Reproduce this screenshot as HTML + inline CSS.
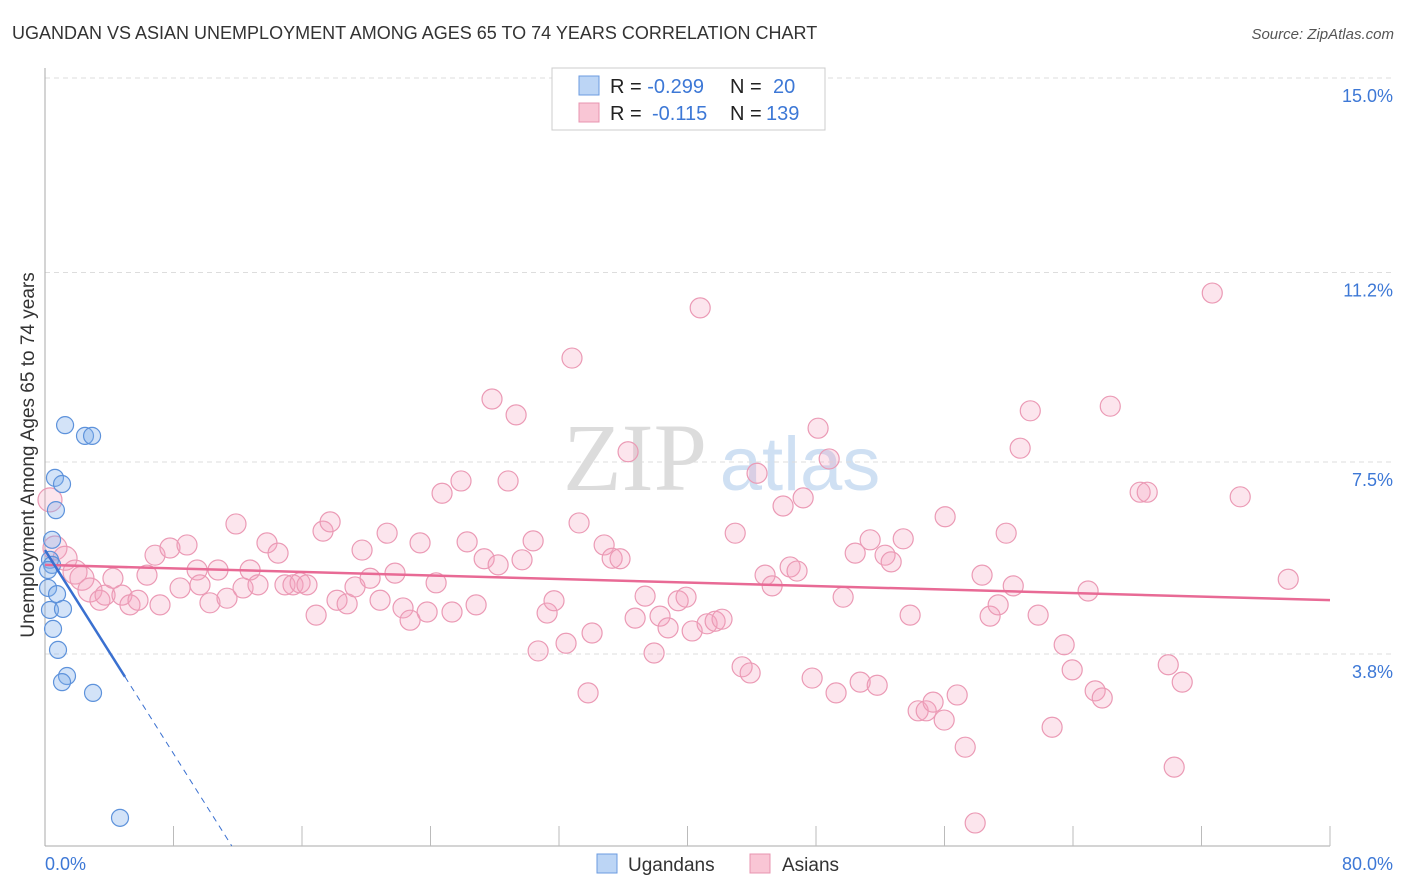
<!DOCTYPE html>
<html><head><meta charset="utf-8"><style>
body{margin:0;background:#fff;font-family:"Liberation Sans",sans-serif}
svg{display:block}
</style></head><body>
<svg id="chart" width="1406" height="892">
<text x="12" y="39" font-size="18" fill="#333">UGANDAN VS ASIAN UNEMPLOYMENT AMONG AGES 65 TO 74 YEARS CORRELATION CHART</text>
<text x="1394" y="39" font-size="15" fill="#555" font-style="italic" text-anchor="end">Source: ZipAtlas.com</text>
<g><text x="635" y="490" font-size="96" fill="#dcdcdc" font-family="Liberation Serif,serif" text-anchor="middle">ZIP</text><text x="800" y="490" font-size="76" fill="#cfe0f3" text-anchor="middle">atlas</text></g>
<g id="grid"></g><g id="axes"></g><g id="pts"></g><g id="lines"></g>
<g>
<rect x="552" y="68" width="273" height="62" fill="#fff" stroke="#ccc"/>
<rect x="579" y="76" width="20" height="19" fill="#bcd5f5" stroke="#6b9be0"/>
<rect x="579" y="103" width="20" height="19" fill="#f9c6d5" stroke="#e894b0"/>
<text x="610" y="93" font-size="20" fill="#222">R = <tspan fill="#3d78d6">-0.299</tspan></text>
<text x="730" y="93" font-size="20" fill="#222">N = </text><text x="773" y="93" font-size="20" fill="#3d78d6">20</text>
<text x="610" y="120" font-size="20" fill="#222">R = </text><text x="652" y="120" font-size="20" fill="#3d78d6">-0.115</text>
<text x="730" y="120" font-size="20" fill="#222">N = </text><text x="766" y="120" font-size="20" fill="#3d78d6">139</text>
</g>
<g>
<rect x="597" y="854" width="20" height="19" fill="#bcd5f5" stroke="#6b9be0"/>
<text x="628" y="871" font-size="19" fill="#333">Ugandans</text>
<rect x="750" y="854" width="20" height="19" fill="#f9c6d5" stroke="#e894b0"/>
<text x="782" y="871" font-size="19" fill="#333">Asians</text>
</g>
<text transform="translate(34,455) rotate(-90)" font-size="19" fill="#333" text-anchor="middle">Unemployment Among Ages 65 to 74 years</text>
</svg>
<script>
const yTicks=[3.8,7.5,11.2,15.0];
const yTickLabels=["3.8%","7.5%","11.2%","15.0%"];
const xTickCount=10;
const ugX=[1.25,2.49,2.93,0.62,1.06,0.68,0.44,0.31,0.44,0.19,0.75,0.31,1.12,0.50,0.81,1.37,1.06,2.99,4.67,0.19];
const ugY=[8.22,8.01,8.01,7.19,7.07,6.56,5.98,5.59,5.49,5.04,4.92,4.61,4.63,4.24,3.83,3.32,3.20,2.99,0.55,5.39];
const asX=[0.31,0.62,1.25,1.87,2.30,2.80,3.42,3.74,4.23,4.79,5.29,5.79,6.35,6.85,7.16,7.78,8.41,8.84,9.47,9.65,10.27,10.77,11.33,11.89,12.33,12.77,13.26,13.82,14.51,14.94,15.44,15.88,16.31,16.88,17.31,17.75,18.18,18.81,19.30,19.74,20.24,20.86,21.30,21.79,22.29,22.73,23.35,23.79,24.35,24.72,25.34,25.90,26.28,26.84,27.34,27.83,28.21,28.83,29.33,29.70,30.39,30.70,31.26,31.69,32.44,32.81,33.25,33.81,34.06,34.81,35.31,35.80,36.30,36.74,37.36,37.92,38.29,38.79,39.42,39.91,40.29,40.79,41.22,41.72,42.15,42.97,43.40,43.90,44.33,44.83,45.27,45.95,46.39,46.82,47.20,47.76,48.13,48.82,49.25,49.69,50.44,50.75,51.37,51.81,52.30,52.68,53.43,53.86,54.36,54.86,55.29,55.98,56.04,56.79,57.29,57.91,58.34,58.84,59.34,59.84,60.28,60.71,61.34,61.83,62.70,63.45,63.95,64.94,65.38,65.82,66.32,68.18,68.62,69.93,70.30,70.80,72.67,74.41,77.40];
const asY=[6.76,5.82,5.62,5.35,5.23,5.00,4.80,4.90,5.23,4.90,4.71,4.80,5.29,5.68,4.71,5.82,5.04,5.88,5.39,5.10,4.75,5.39,4.84,6.29,5.04,5.39,5.10,5.92,5.72,5.10,5.10,5.14,5.10,4.51,6.15,6.33,4.80,4.73,5.06,5.78,5.23,4.80,6.11,5.33,4.65,4.41,5.92,4.57,5.14,6.89,4.57,7.13,5.94,4.71,5.61,8.73,5.49,7.13,8.42,5.59,5.96,3.81,4.55,4.79,3.96,9.53,6.31,2.99,4.16,5.88,5.62,5.61,7.70,4.45,4.88,3.77,4.49,4.26,4.79,4.86,4.20,10.51,4.34,4.39,4.43,6.11,3.50,3.38,7.28,5.29,5.08,6.64,5.45,5.37,6.80,3.28,8.16,7.56,2.99,4.86,5.72,3.20,5.98,3.14,5.68,5.55,6.00,4.51,2.64,2.64,2.81,2.46,6.43,2.95,1.93,0.45,5.29,4.49,4.71,6.11,5.08,7.77,8.50,4.51,2.32,3.93,3.44,4.98,3.03,2.89,8.59,6.91,6.91,3.54,1.54,3.20,10.80,6.82,5.21];
const ugFit=[5.78,-0.497];
const asFit=[5.49,-0.0086];
const ugSolidEnd=4.98;

const X0=45,X1=1330,Y0=846,PX=(X1-X0)/80,PY=51.2;
const sx=v=>X0+v*PX, sy=v=>Y0-v*PY;
const NS="http://www.w3.org/2000/svg";
function mk(tag,parent,attrs){const e=document.createElementNS(NS,tag);for(const k in attrs)e.setAttribute(k,attrs[k]);document.getElementById(parent).appendChild(e);return e;}
yTicks.forEach((t,i)=>{
 const gv=(t===3.8?3.75:t);
 const g=mk('line','grid',{x1:X0,x2:1393,y1:sy(gv),y2:sy(gv),stroke:'#ddd','stroke-dasharray':'5,4'});
 
 
 const l=mk('text','axes',{x:1393,y:sy(gv)+24,'font-size':18,fill:'#3d78d6','text-anchor':'end'});
 l.textContent=yTickLabels[i];
 
 
});
const ya=mk('line','axes',{x1:X0,x2:X0,y1:68,y2:Y0,stroke:'#aaa'});


const xa=mk('line','axes',{x1:X0,x2:X1,y1:Y0,y2:Y0,stroke:'#aaa'});


for(let i=1;i<=xTickCount;i++){const t=mk('line','axes',{x1:sx(i*8),x2:sx(i*8),y1:826,y2:Y0,stroke:'#bbb'});
 
 }
const xl0=mk('text','axes',{x:45,y:870,'font-size':18,fill:'#3d78d6'});xl0.textContent='0.0%';


const xl1=mk('text','axes',{x:1393,y:870,'font-size':18,fill:'#3d78d6','text-anchor':'end'});xl1.textContent='80.0%';


asX.forEach((x,i)=>{const r=(x<3?12:10);const c=mk('circle','pts',{cx:sx(x),cy:sy(asY[i]),r:r,fill:'rgba(244,160,190,0.28)',stroke:'#eb9ab5','stroke-width':1.2});
 
 });
ugX.forEach((x,i)=>{const c=mk('circle','pts',{cx:sx(x),cy:sy(ugY[i]),r:8.5,fill:'rgba(130,175,235,0.35)',stroke:'#5d92db','stroke-width':1.2});
 
 });
const al=mk('line','lines',{x1:sx(0),y1:sy(asFit[0]),x2:sx(80),y2:sy(asFit[0]+asFit[1]*80),stroke:'#e86a95','stroke-width':2.5});


const ul=mk('line','lines',{x1:sx(0),y1:sy(ugFit[0]),x2:sx(ugSolidEnd),y2:sy(ugFit[0]+ugFit[1]*ugSolidEnd),stroke:'#3a70d0','stroke-width':2.5});


const xe=-ugFit[0]/ugFit[1];
const ud=mk('line','lines',{x1:sx(ugSolidEnd),y1:sy(ugFit[0]+ugFit[1]*ugSolidEnd),x2:sx(xe),y2:sy(0),stroke:'#3a70d0','stroke-width':1,'stroke-dasharray':'6,5'});


const topGrid=mk('line','grid',{x1:X0,x2:1393,y1:sy(15),y2:sy(15),stroke:'#ddd','stroke-dasharray':'5,4'});


</script>
</body></html>
